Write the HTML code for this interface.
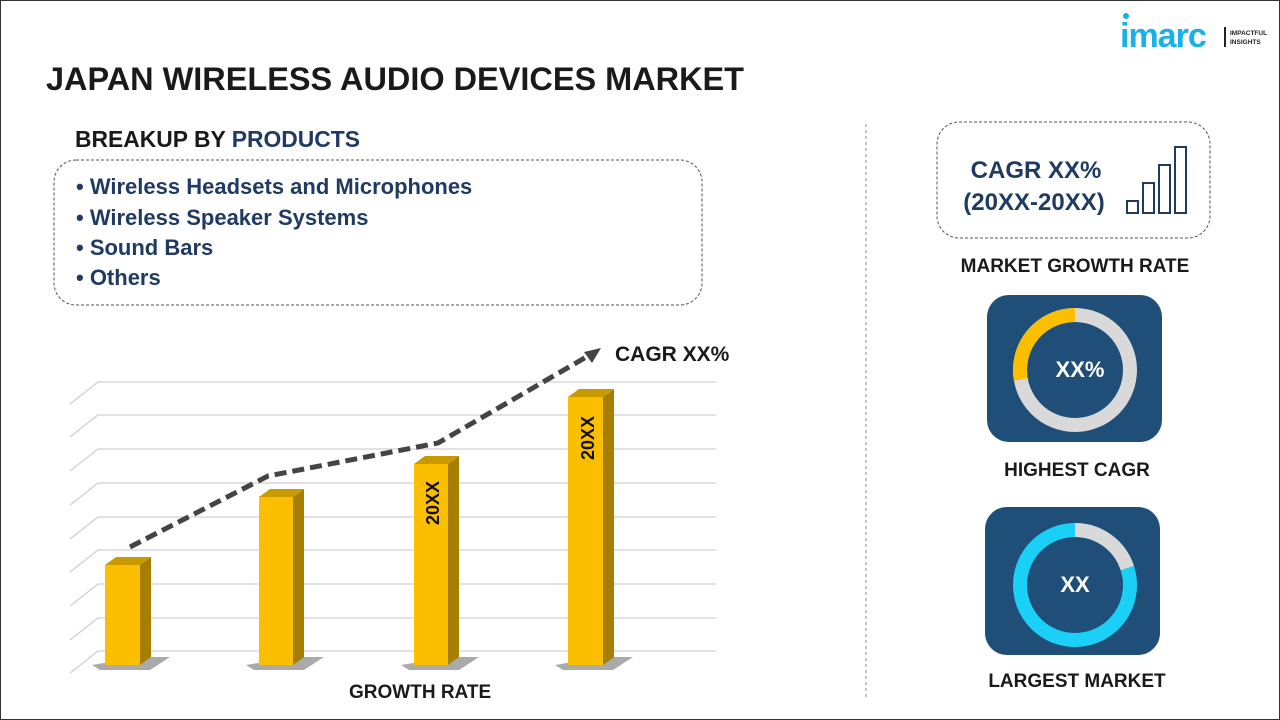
<!DOCTYPE html>
<html><head><meta charset="utf-8"><style>
body{margin:0;background:#fff;}
svg{display:block;font-family:"Liberation Sans",sans-serif;}
</style></head><body>
<svg width="1280" height="720" viewBox="0 0 1280 720">
<rect x="0.5" y="0.5" width="1279" height="719" fill="#fff" stroke="#333" stroke-width="1"/>
<!-- logo -->
<circle cx="1126" cy="16" r="3" fill="#1ab0e8"/>
<text x="1120" y="47" font-size="34" font-weight="bold" fill="#1ab0e8" letter-spacing="-1">imarc</text>
<rect x="1224" y="27" width="2" height="20" fill="#222"/>
<text x="1230" y="35" font-size="6.5" font-weight="bold" fill="#222">IMPACTFUL</text>
<text x="1230" y="44" font-size="6.5" font-weight="bold" fill="#222">INSIGHTS</text>
<!-- title -->
<text x="46" y="90" font-size="32" font-weight="bold" fill="#1a1a1a" transform="scale(1,1)" textLength="698" lengthAdjust="spacingAndGlyphs">JAPAN WIRELESS AUDIO DEVICES MARKET</text>
<text x="75" y="147" font-size="23" font-weight="bold" fill="#1a1a1a" textLength="285" lengthAdjust="spacingAndGlyphs">BREAKUP BY <tspan fill="#1f3a63">PRODUCTS</tspan></text>
<rect x="54" y="160" width="648" height="145" rx="22" fill="none" stroke="#555" stroke-dasharray="3,2"/>
<g font-size="22" font-weight="bold" fill="#1f3a63">
<text x="76" y="194">• Wireless Headsets and Microphones</text>
<text x="76" y="225">• Wireless Speaker Systems</text>
<text x="76" y="255">• Sound Bars</text>
<text x="76" y="285">• Others</text>
</g>
<!-- divider -->
<line x1="866" y1="124" x2="866" y2="700" stroke="#888" stroke-dasharray="3,3"/>
<!-- grid -->
<g stroke="#d0d0d0" stroke-width="1.3" fill="none">
<path d="M98 382H716M70 404L98 382"/>
<path d="M98 415H716M70 437L98 415"/>
<path d="M98 449H716M70 471L98 449"/>
<path d="M98 483H716M70 505L98 483"/>
<path d="M98 517H716M70 539L98 517"/>
<path d="M98 550H716M70 572L98 550"/>
<path d="M98 584H716M70 606L98 584"/>
<path d="M98 618H716M70 640L98 618"/>
<path d="M98 651H716M70 673L98 651"/>
</g>
<!-- bars -->
<g>
<path d="M92 665L140 657L170 657L150 670L100 670Z" fill="#555" opacity="0.5"/>
<path d="M246 665L294 657L324 657L304 670L254 670Z" fill="#555" opacity="0.5"/>
<path d="M401 665L449 657L479 657L459 670L409 670Z" fill="#555" opacity="0.5"/>
<path d="M555 665L603 657L633 657L613 670L563 670Z" fill="#555" opacity="0.5"/>
<rect x="105" y="565" width="35" height="100" fill="#fbbf00"/><path d="M140 565L151 557V657L140 665Z" fill="#a77f00"/><path d="M105 565L116 557H151L140 565Z" fill="#c99a00"/>
<rect x="259" y="497" width="34" height="168" fill="#fbbf00"/><path d="M293 497L304 489V657L293 665Z" fill="#a77f00"/><path d="M259 497L270 489H304L293 497Z" fill="#c99a00"/>
<rect x="414" y="464" width="34" height="201" fill="#fbbf00"/><path d="M448 464L459 456V657L448 665Z" fill="#a77f00"/><path d="M414 464L425 456H459L448 464Z" fill="#c99a00"/>
<rect x="568" y="397" width="35" height="268" fill="#fbbf00"/><path d="M603 397L614 389V657L603 665Z" fill="#a77f00"/><path d="M568 397L579 389H614L603 397Z" fill="#c99a00"/>
</g>
<text transform="translate(439,525) rotate(-90)" font-size="18" font-weight="bold" fill="#111">20XX</text>
<text transform="translate(594,460) rotate(-90)" font-size="18" font-weight="bold" fill="#111">20XX</text>
<!-- trend -->
<polyline points="130,547 268,476 438,443 588,356" fill="none" stroke="#444" stroke-width="5" stroke-dasharray="12,6"/>
<path d="M601 348L584 352L592 363Z" fill="#444"/>
<text x="615" y="361" font-size="21" font-weight="bold" fill="#1a1a1a">CAGR XX%</text>
<text x="349" y="698" font-size="19" font-weight="bold" fill="#1a1a1a">GROWTH RATE</text>
<!-- right top box -->
<rect x="937" y="122" width="273" height="116" rx="22" fill="none" stroke="#555" stroke-dasharray="3,2"/>
<text x="1036" y="178" font-size="24" font-weight="bold" fill="#1f3a63" text-anchor="middle">CAGR XX%</text>
<text x="1034" y="210" font-size="24" font-weight="bold" fill="#1f3a63" text-anchor="middle">(20XX-20XX)</text>
<g fill="none" stroke="#1f3a63" stroke-width="2">
<rect x="1127" y="201" width="11" height="12"/><rect x="1143" y="183" width="11" height="30"/><rect x="1159" y="165" width="11" height="48"/><rect x="1175" y="147" width="11" height="66"/>
</g>
<text x="1075" y="272" font-size="19" font-weight="bold" fill="#1a1a1a" text-anchor="middle">MARKET GROWTH RATE</text>
<!-- donut 1 -->
<rect x="987" y="295" width="175" height="147" rx="22" fill="#1f4e79"/>
<circle cx="1075" cy="370" r="55" fill="none" stroke="#d9d9d9" stroke-width="14"/>
<path d="M1075 315 A55 55 0 0 0 1020.8 379.5" fill="none" stroke="#fbbf00" stroke-width="14"/>
<text x="1080" y="377" font-size="22" font-weight="bold" fill="#fff" text-anchor="middle">XX%</text>
<text x="1077" y="476" font-size="19" font-weight="bold" fill="#1a1a1a" text-anchor="middle">HIGHEST CAGR</text>
<!-- donut 2 -->
<rect x="985" y="507" width="175" height="148" rx="22" fill="#1f4e79"/>
<circle cx="1075" cy="585" r="55" fill="none" stroke="#1ad0f7" stroke-width="14"/>
<path d="M1075 530 A55 55 0 0 1 1127.3 568" fill="none" stroke="#d9d9d9" stroke-width="14"/>
<text x="1075" y="592" font-size="22" font-weight="bold" fill="#fff" text-anchor="middle">XX</text>
<text x="1077" y="687" font-size="19" font-weight="bold" fill="#1a1a1a" text-anchor="middle">LARGEST MARKET</text>
</svg>
</body></html>
